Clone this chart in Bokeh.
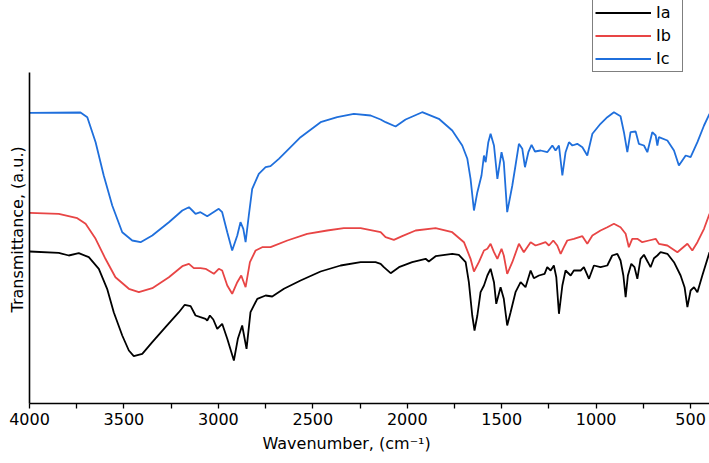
from bokeh.plotting import figure
from bokeh.models import Range1d, FixedTicker, Title
from bokeh.embed import file_html
from bokeh.resources import INLINE

# ---- data (wavenumber cm^-1, transmittance a.u.) ----
ic_wn = [4000, 3730, 3694, 3650, 3607, 3562, 3509, 3456, 3412, 3350, 3262, 3191, 3156, 3138, 3121, 3095,
         3059, 2998, 2980, 2953, 2927, 2900, 2883, 2868, 2856, 2839, 2821, 2786, 2750, 2724, 2680, 2627,
         2565, 2459, 2371, 2283, 2194, 2141, 2115, 2062, 2009, 1921, 1833, 1762, 1709, 1682, 1665, 1647,
         1629, 1607, 1594, 1585, 1571, 1559, 1541, 1523, 1501, 1489, 1471, 1444, 1427, 1409, 1391, 1377,
         1359, 1342, 1324, 1294, 1259, 1232, 1215, 1197, 1179, 1162, 1144, 1126, 1100, 1073, 1047, 1020,
         977, 941, 906, 871, 853, 835, 818, 791, 774, 747, 729, 703, 685, 676, 668, 623, 588, 562, 526,
         500, 464, 429, 400]
ic_t = [290.7, 291, 286.3, 261.3, 228, 198, 171.3, 163, 161.3, 168, 181.3, 193, 196.3, 193, 189.7, 191.3,
        187.3, 194.7, 191.3, 171.3, 153, 168, 181.3, 174.7, 161.3, 188, 214.7, 229.7, 236.3, 237.3, 244.7, 254.7,
        266.3, 281.3, 286.3, 289.7, 288, 284, 281.3, 277, 284, 291.3, 284.7, 273, 258, 244.7, 224.7, 193,
        211.3, 228, 248, 241.3, 261.3, 269.7, 258, 224.7, 251.3, 241.3, 191.3, 218, 238, 259.7, 254.7, 236.3,
        251.3, 258.7, 252, 253, 251.3, 258, 253, 258, 228, 251.3, 261.3, 258, 259.7, 256.3, 248, 269.7,
        279.7, 286.3, 291.3, 287.3, 271.3, 251.3, 271.3, 272, 259.7, 258, 251.3, 271.3, 268, 258, 266.3, 263, 253, 238, 248,
        246.3, 261.3, 278, 289.7]

ib_wn = [4000, 3845, 3747, 3703, 3650, 3598, 3545, 3474, 3421, 3350, 3262, 3191, 3156, 3130, 3095, 3068,
         3024, 2998, 2980, 2953, 2927, 2900, 2879, 2856, 2833, 2803, 2768, 2724, 2635, 2530, 2424, 2336,
         2247, 2141, 2115, 2071, 2027, 1956, 1850, 1762, 1700, 1665, 1647, 1621, 1594, 1576, 1559, 1541,
         1523, 1501, 1489, 1471, 1444, 1409, 1383, 1347, 1321, 1294, 1268, 1250, 1227, 1206, 1188, 1171,
         1153, 1118, 1073, 1047, 1020, 977, 941, 906, 871, 844, 827, 809, 782, 756, 721, 685, 668, 623,
         570, 517, 491, 464, 429, 400]
ib_t = [190.7, 189.7, 185.3, 179.7, 164.7, 144.7, 126.3, 114.7, 111.3, 115.3, 126.3, 137.3, 139.7, 135.3, 135.3, 134.7,
        129.7, 134.7, 133, 118, 109.7, 121.3, 128, 116.3, 141.3, 153, 156.3, 156.3, 163, 169.7, 173, 175.3,
        175.3, 171.3, 166.3, 163.7, 167.3, 173, 175.3, 171.3, 161.3, 144.7, 132, 141.3, 153, 154.7, 159.7, 151.3,
        144.7, 154.7, 148, 129.7, 141.3, 159.7, 151.3, 161.3, 158, 159.7, 161.3, 158, 163, 158, 149.7, 156.3,
        163, 164.7, 167.3, 159.7, 168, 173, 176.3, 179.7, 176.3, 169.7, 156.3, 164.7, 164.7, 161.3, 163, 164.7, 159.7, 158,
        151.3, 159.7, 153, 161.3, 174.7, 189.7]

ia_wn = [4000, 3845, 3792, 3739, 3686, 3633, 3589, 3554, 3509, 3474, 3448, 3403, 3350, 3280, 3209, 3178,
         3147, 3121, 3095, 3068, 3059, 3045, 3027, 3006, 2980, 2953, 2918, 2897, 2874, 2851, 2830, 2794,
         2750, 2715, 2653, 2565, 2459, 2353, 2247, 2168, 2141, 2124, 2088, 2044, 1974, 1903, 1886, 1850,
         1762, 1727, 1691, 1674, 1656, 1644, 1629, 1612, 1594, 1576, 1559, 1541, 1529, 1506, 1489, 1471,
         1453, 1427, 1400, 1374, 1347, 1330, 1303, 1273, 1259, 1241, 1224, 1211, 1197, 1179, 1162, 1135,
         1118, 1082, 1065, 1038, 1012, 977, 941, 915, 888, 871, 856, 844, 832, 814, 797, 782, 765, 747,
         726, 712, 694, 676, 659, 623, 588, 553, 532, 517, 500, 482, 464, 438, 400]
ia_t = [152, 150.7, 148, 150.3, 146.3, 134.7, 114.7, 91.3, 68, 53, 47.3, 49.7, 61.3, 76.3, 91.3, 98.7,
        97.3, 88, 86.3, 84.7, 83, 88, 84, 74.7, 79.7, 64.7, 43, 64.7, 78, 54.7, 91.3, 104.7,
        108, 107, 114.7, 123, 132, 138, 141.3, 141.3, 139.7, 136.3, 130.3, 136.3, 141.3, 144.7, 142, 147.3,
        149.7, 148.7, 141.3, 121.3, 88, 73, 88, 111.3, 118, 128, 134.7, 121.3, 99.7, 116.3, 104.7, 78,
        91.3, 111.3, 121.3, 116.3, 133, 125.3, 128, 129.7, 136.3, 133, 138, 126.3, 89.7, 118, 133, 128,
        133, 133, 136.3, 124.7, 138, 136.3, 138, 148, 149.7, 143, 128, 106.3, 128, 139.7, 136.3, 124.7, 144.7, 148.7,
        141.3, 136.3, 145.3, 148, 151.3, 149.7, 141.3, 128, 116.3, 96.3, 113, 116.3, 111.3, 128, 151.3]

series_names = ["Ia", "Ib", "Ic"]
series_colors = ["#000000", "#e84545", "#1f6fdc"]
x_major_ticks = [4000, 3500, 3000, 2500, 2000, 1500, 1000, 500]
x_minor_ticks = [3750, 3250, 2750, 2250, 1750, 1250, 750]
x_title = "Wavenumber, (cm\u207b\u00b9)"
y_title = "Transmittance, (a.u.)"

FONT = "DejaVu Sans"

# frame covers the top band too (legend lives there); y axis line is bounded
p = figure(width=709, height=463, output_backend="svg", toolbar_location=None,
           x_range=Range1d(4000, 400), y_range=Range1d(0, 403),
           min_border_left=29, min_border_right=0, min_border_top=0, min_border_bottom=60)
p.outline_line_color = None
p.grid.visible = False
p.background_fill_color = "white"
p.border_fill_color = "white"

for wn, t, name, col in zip([ia_wn, ib_wn, ic_wn], [ia_t, ib_t, ic_t], series_names, series_colors):
    p.line(wn, t, line_color=col, line_width=1.8, legend_label=name)

# x axis
xa = p.xaxis[0]
xa.ticker = FixedTicker(ticks=x_major_ticks, minor_ticks=x_minor_ticks)
xa.axis_line_width = 1.6
xa.axis_line_color = "black"
xa.major_tick_in = 0
xa.major_tick_out = 5
xa.minor_tick_in = 0
xa.minor_tick_out = 5
xa.major_tick_line_width = 1.3
xa.minor_tick_line_width = 1.3
xa.major_label_text_font = FONT
xa.major_label_text_font_size = "16px"
xa.major_label_text_color = "black"
xa.major_label_standoff = 4

# y axis
ya = p.yaxis[0]
ya.ticker = FixedTicker(ticks=[])
ya.bounds = (0, 331)
ya.axis_line_width = 1.6
ya.axis_line_color = "black"
ya.major_tick_line_color = None
ya.minor_tick_line_color = None
ya.major_tick_out = 0
ya.major_label_standoff = 0

xt = Title(text=x_title, align="left", offset=233, standoff=8,
           text_font=FONT, text_font_size="16px", text_font_style="normal", text_color="black")
p.add_layout(xt, "below")
yt = Title(text=y_title, align="left", offset=91, standoff=6,
           text_font=FONT, text_font_size="16px", text_font_style="normal", text_color="black")
p.add_layout(yt, "left")

# legend
lg = p.legend[0]
lg.location = (563, 331)
lg.border_line_color = "black"
lg.border_line_width = 1
lg.background_fill_alpha = 1
lg.padding = 2
lg.margin = 0
lg.spacing = 2
lg.glyph_width = 56
lg.glyph_height = 21
lg.label_height = 21
lg.label_width = 24
lg.label_standoff = 5
lg.label_text_font = FONT
lg.label_text_font_size = "16px"
lg.label_text_color = "black"

open("out.html", "w").write(file_html(p, INLINE))
